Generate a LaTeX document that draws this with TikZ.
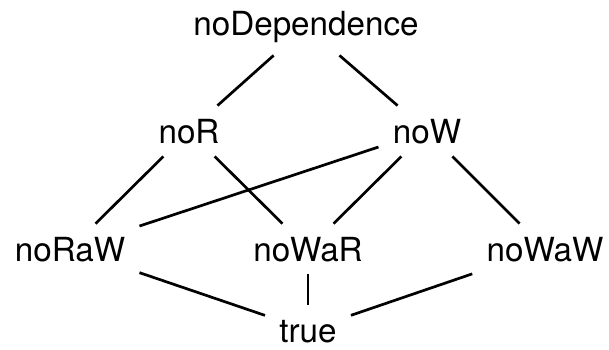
\documentclass[tikz,border=0pt]{standalone}
\usepackage{fontspec}
\setmainfont{TeX Gyre Heros}
\begin{document}
\begin{tikzpicture}[x=0.5pt,y=-0.5pt,
  lbl/.style={rectangle, inner xsep=7pt, inner ysep=0pt, minimum height=25pt,
    text height=12pt, text depth=0pt, font=\fontsize{16.6}{20}\selectfont},
  link/.style={line width=1.35pt}]
\useasboundingbox (0,0) rectangle (609,349);
% lattice levels, top to bottom
\node[lbl, text depth=3.5pt, minimum height=28.5pt] (nd) at (306,26.5) {noDependence};
\node[lbl] (nr)   at (189,131) {noR};
\node[lbl] (nw)   at (427,131) {noW};
\node[lbl] (nraw) at (70,249)  {noRaW};
\node[lbl] (nwar) at (308,249) {noWaR};
\node[lbl] (nwaw) at (545,249) {noWaW};
\node[lbl] (tr)   at (308,330) {true};
% order relations
\draw[link] (nd) -- (nr);
\draw[link] (nd) -- (nw);
\draw[link] (nr) -- (nraw);
\draw[link] (nr) -- (nwar);
\draw[link] (nw) -- (nraw);
\draw[link] (nw) -- (nwar);
\draw[link] (nw) -- (nwaw);
\draw[link] (nraw) -- (tr);
\draw[link] (nwar) -- (tr);
\draw[link] (nwaw) -- (tr);
\end{tikzpicture}
\end{document}
